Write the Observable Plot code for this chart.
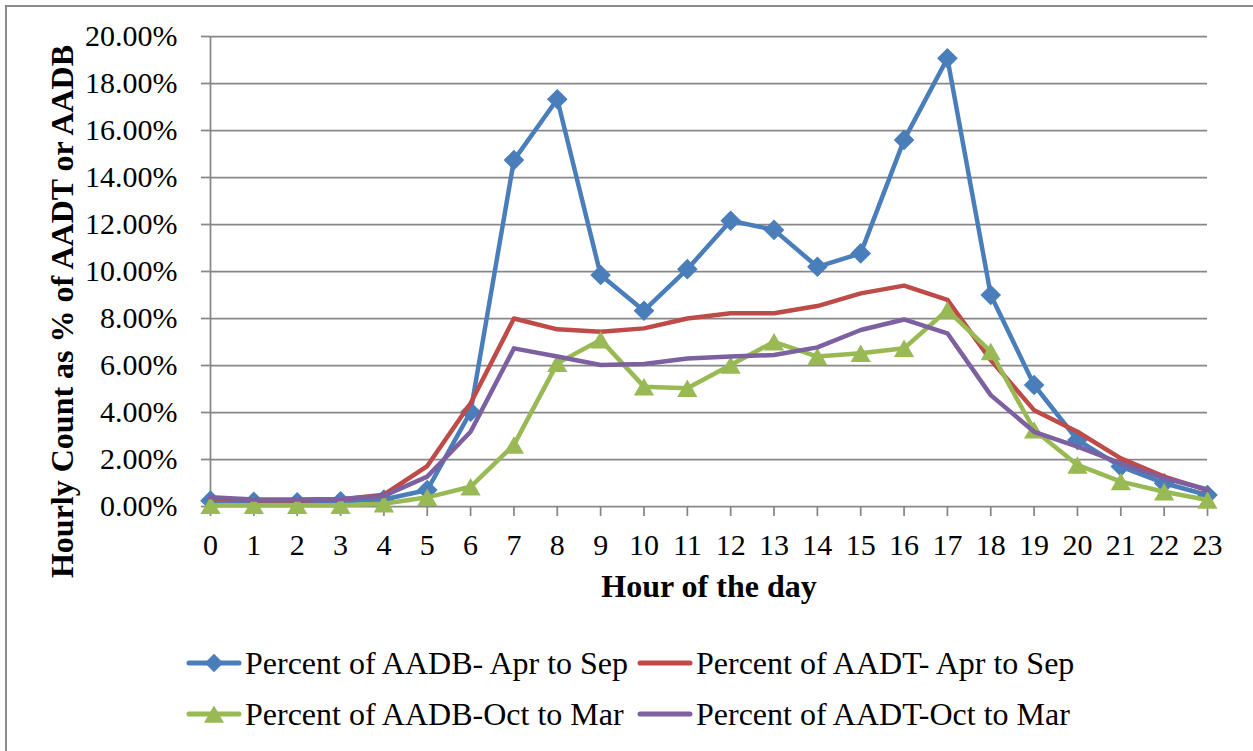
<!DOCTYPE html>
<html><head><meta charset="utf-8">
<script src="https://cdn.jsdelivr.net/npm/d3@7"></script>
<script src="https://cdn.jsdelivr.net/npm/@observablehq/plot@0.6"></script>
<style>
html,body{margin:0;padding:0;background:#fff;overflow:hidden;}
#wrap{position:relative;width:1253px;height:751px;overflow:hidden;}
#border{position:absolute;left:5px;top:5px;width:1262px;height:770px;border:2px solid #8a8a8a;box-sizing:border-box;}
#chart{position:absolute;left:0;top:0;}
.leg{position:absolute;display:flex;align-items:center;font-family:"Liberation Serif","Times New Roman",serif;font-size:32px;color:#000;white-space:nowrap;line-height:1;}
.leg svg{display:block;margin-right:3px;}
</style></head><body>
<div id="wrap"><div id="border"></div><div id="chart"></div><div id="legend"></div></div>
<script>
// Categories: hour of the day
const hours = [0,1,2,3,4,5,6,7,8,9,10,11,12,13,14,15,16,17,18,19,20,21,22,23];
// Series values (percent)
const aadbAprSep = [0.25,0.2,0.18,0.22,0.3,0.7,4.03,14.74,17.33,9.85,8.33,10.1,12.16,11.77,10.2,10.77,15.6,19.07,9.0,5.17,2.83,1.7,0.99,0.49];
const aadtAprSep = [0.35,0.27,0.25,0.3,0.5,1.72,4.39,8.0,7.54,7.44,7.58,8.0,8.22,8.22,8.53,9.07,9.4,8.79,6.23,4.1,3.18,2.05,1.27,0.7];
const aadbOctMar = [0.05,0.05,0.05,0.05,0.12,0.39,0.84,2.62,6.09,7.09,5.1,5.03,6.02,7.01,6.38,6.52,6.73,8.36,6.59,3.26,1.77,1.06,0.63,0.28];
const aadtOctMar = [0.39,0.3,0.3,0.32,0.45,1.27,3.18,6.73,6.38,6.02,6.06,6.3,6.38,6.45,6.77,7.51,7.96,7.37,4.74,3.18,2.55,1.84,1.2,0.73];
// Series names, colours, markers
const seriesNames = ["Percent of AADB- Apr to Sep","Percent of AADT- Apr to Sep","Percent of AADB-Oct to Mar","Percent of AADT-Oct to Mar"];
const seriesColors = ["#4A7EBB","#BE4B48","#98B954","#7D60A0"];
const seriesSymbols = ["diamond2", null, "triangle", null];
// Tick labels
const yTicks = [0,2,4,6,8,10,12,14,16,18,20];
const yTickLabels = ["0.00%","2.00%","4.00%","6.00%","8.00%","10.00%","12.00%","14.00%","16.00%","18.00%","20.00%"];
const xTitle = "Hour of the day";
const yTitle = "Hourly Count as % of AADT or AADB";

const seriesValues = [aadbAprSep, aadtAprSep, aadbOctMar, aadtOctMar];
const rows = seriesNames.flatMap((name, s) => hours.map((h, i) => ({hour: h, value: seriesValues[s][i], series: name})));

const grid = "#878787";
const seriesMarks = seriesNames.flatMap((name, s) => {
  const data = rows.filter(d => d.series === name);
  const m = [Plot.line(data, {x: "hour", y: "value", stroke: "series", strokeWidth: 4.5, strokeLinejoin: "round", strokeLinecap: "round"})];
  if (seriesSymbols[s] === "diamond2") m.push(Plot.dot(data, {x: "hour", y: "value", fill: "series", stroke: "none", symbol: "diamond2", r: 9.3}));
  if (seriesSymbols[s] === "triangle") m.push(Plot.dot(data, {x: "hour", y: "value", fill: "series", stroke: "none", symbol: "triangle", r: 7.5, dy: 2.9}));
  return m;
});

const chart = Plot.plot({
  width: 1253, height: 610,
  marginLeft: 210, marginRight: 46, marginTop: 36, marginBottom: 104,
  style: {fontFamily: '"Liberation Serif","Times New Roman",serif', fontSize: "30px", color: "#000", background: "transparent", overflow: "visible"},
  x: {domain: [0, 23]},
  y: {domain: [0, 20]},
  color: {domain: seriesNames, range: seriesColors},
  marks: [
    Plot.ruleY(yTicks, {stroke: grid, strokeWidth: 1.75}),
    Plot.ruleX([0], {stroke: grid, strokeWidth: 1.75}),
    Plot.axisY(yTicks, {tickSize: 9, tickPadding: 24, stroke: grid, strokeWidth: 1.75, fill: "#000", tickFormat: (d) => yTickLabels[yTicks.indexOf(d)], label: null, fontSize: 30}),
    Plot.axisX(hours, {tickSize: 10, tickPadding: 17, stroke: grid, strokeWidth: 1.75, fill: "#000", tickFormat: d => String(d), label: null, fontSize: 30}),
    ...seriesMarks,
    Plot.text([xTitle], {frameAnchor: "bottom", textAnchor: "middle", lineAnchor: "middle", dy: 80, fontWeight: "bold", fontSize: 32}),
    Plot.text([yTitle], {frameAnchor: "left", textAnchor: "middle", lineAnchor: "middle", rotate: -90, dx: -148, dy: 40, fontWeight: "bold", fontSize: 32})
  ]
});
document.getElementById("chart").appendChild(chart);

// Legend
const legendPos = [[186, 663], [637, 663], [186, 714], [637, 714]];
const legend = d3.select("#legend");
seriesNames.forEach((name, s) => {
  const item = legend.append("div").attr("class", "leg")
    .style("left", legendPos[s][0] + "px").style("top", (legendPos[s][1] - 17) + "px").style("height", "34px");
  const svg = item.append("svg").attr("width", 56).attr("height", 34);
  svg.append("line").attr("x1", 3).attr("x2", 53).attr("y1", 17).attr("y2", 17)
    .attr("stroke", seriesColors[s]).attr("stroke-width", 5).attr("stroke-linecap", "round");
  if (seriesSymbols[s] === "diamond2") {
    svg.append("path").attr("transform", "translate(28,17)").attr("d", d3.symbol(d3.symbolDiamond2, 220)()).attr("fill", seriesColors[s]);
  } else if (seriesSymbols[s] === "triangle") {
    svg.append("path").attr("transform", "translate(28,20)").attr("d", d3.symbol(d3.symbolTriangle, 175)()).attr("fill", seriesColors[s]);
  }
  item.append("span").text(name);
});
</script>
</body></html>
